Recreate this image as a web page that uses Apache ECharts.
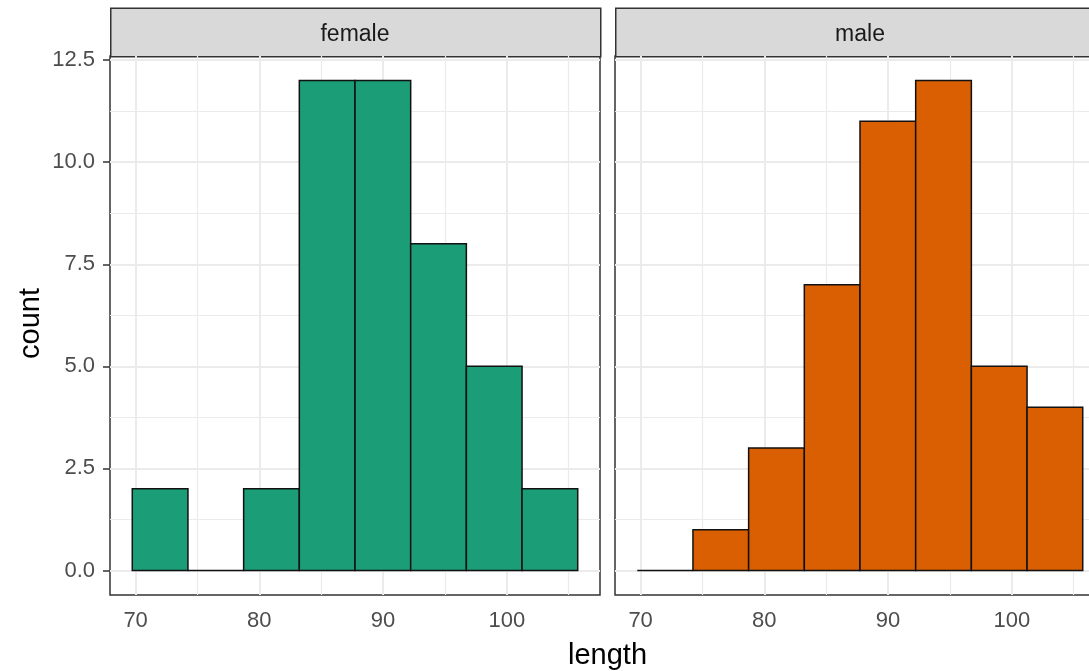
<!DOCTYPE html>
<html>
<head>
<meta charset="utf-8">
<script src="https://cdn.jsdelivr.net/npm/echarts@6/dist/echarts.min.js"></script>
<style>
html,body{margin:0;padding:0;background:#fff;}
#chart{width:1089px;height:671px;}
</style>
</head>
<body>
<div id="chart"></div>
<script>
// ---- data ----
const panels = ['female', 'male'];
const binEdges = [69.73, 74.23, 78.73, 83.23, 87.73, 92.23, 96.73, 101.23, 105.73];
const femaleCounts = [2, 0, 2, 12, 12, 8, 5, 2];
const maleCounts = [0, 1, 3, 7, 11, 12, 5, 4];
const xTicks = [70, 80, 90, 100];
const xMinor = [75, 85, 95, 105];
const yTicks = [0, 2.5, 5, 7.5, 10, 12.5];
const yMinor = [1.25, 3.75, 6.25, 8.75, 11.25];
const colors = ['#1B9E77', '#D95F02'];

// ---- layout ----
const X_MIN = 67.93, X_MAX = 107.53, Y_MIN = -0.6, Y_MAX = 12.6;
const PANEL_TOP = 56, PANEL_H = 539, PANEL_W = 490;
const PANEL_LEFT = [110, 615];
const STRIP_TOP = 7.5;
const FONT = '"Liberation Sans", Arial, sans-serif';

function binData(counts) {
  return counts.map((c, i) => [binEdges[i], binEdges[i + 1], c]);
}

const grids = PANEL_LEFT.map(l => ({
  left: l, top: PANEL_TOP, width: PANEL_W, height: PANEL_H,
  show: true, backgroundColor: '#fff', borderColor: '#333333', borderWidth: 1.5,
  containLabel: false, outerBoundsMode: 'none'
}));

const xAxes = panels.map((p, i) => ({
  type: 'value', gridIndex: i, min: X_MIN, max: X_MAX,
  axisLine: { show: false },
  axisTick: { show: true, length: 6, customValues: xTicks, lineStyle: { color: '#333333', width: 1.5 } },
  axisLabel: { show: true, customValues: xTicks, margin: 15, color: '#4D4D4D', fontSize: 22, fontFamily: FONT },
  splitLine: { show: false }
}));

const yAxes = panels.map((p, i) => ({
  type: 'value', gridIndex: i, min: Y_MIN, max: Y_MAX,
  axisLine: { show: false },
  axisTick: { show: i === 0, length: 7, customValues: yTicks, lineStyle: { color: '#333333', width: 1.5 } },
  axisLabel: { show: i === 0, customValues: yTicks, margin: 15, color: '#4D4D4D', fontSize: 22, fontFamily: FONT,
    formatter: v => Number(v).toFixed(1) },
  splitLine: { show: false }
}));

function gridLineData() {
  const d = [];
  xTicks.forEach(v => d.push({ xAxis: v, lineStyle: { color: '#EBEBEB', width: 2, type: 'solid' } }));
  xMinor.forEach(v => d.push({ xAxis: v, lineStyle: { color: '#EBEBEB', width: 1.2, type: 'solid' } }));
  yTicks.forEach(v => d.push({ yAxis: v, lineStyle: { color: '#EBEBEB', width: 2, type: 'solid' } }));
  yMinor.forEach(v => d.push({ yAxis: v, lineStyle: { color: '#EBEBEB', width: 1.2, type: 'solid' } }));
  return d;
}

const series = [];
[femaleCounts, maleCounts].forEach((counts, i) => {
  series.push({
    type: 'line', xAxisIndex: i, yAxisIndex: i, data: [], z: 1, silent: true,
    markLine: { silent: true, symbol: ['none', 'none'], label: { show: false }, animation: false, data: gridLineData() }
  });
  series.push({
    type: 'custom', name: panels[i], xAxisIndex: i, yAxisIndex: i, z: 10,
    data: binData(counts),
    encode: { x: [0, 1], y: 2 },
    renderItem: (params, api) => {
      const x0 = api.value(0), x1 = api.value(1), c = api.value(2);
      const p0 = api.coord([x0, 0]);
      const p1 = api.coord([x1, c]);
      if (c === 0) {
        return { type: 'line', shape: { x1: p0[0], y1: p0[1], x2: p1[0], y2: p0[1] },
          style: { stroke: '#111', lineWidth: 1.5 } };
      }
      return { type: 'rect', shape: { x: p0[0], y: p1[1], width: p1[0] - p0[0], height: p0[1] - p1[1] },
        style: { fill: colors[i], stroke: '#111', lineWidth: 1.5 } };
    }
  });
});

const graphics = [];
panels.forEach((p, i) => {
  graphics.push({
    type: 'rect', left: PANEL_LEFT[i], top: STRIP_TOP, z: 5,
    shape: { width: PANEL_W, height: PANEL_TOP - STRIP_TOP },
    style: { fill: '#D9D9D9', stroke: '#333333', lineWidth: 1.5 }
  });
  graphics.push({
    type: 'text', z: 6,
    x: PANEL_LEFT[i] + PANEL_W / 2, y: (STRIP_TOP + PANEL_TOP) / 2 + 3,
    style: { text: p, fill: '#1A1A1A', font: '23px ' + FONT, align: 'center', verticalAlign: 'middle' }
  });
});
graphics.push({
  type: 'text', x: (PANEL_LEFT[0] + PANEL_LEFT[1] + PANEL_W) / 2, y: 656,
  style: { text: 'length', fill: '#000', font: '29px ' + FONT, align: 'center', verticalAlign: 'middle' }
});
graphics.push({
  type: 'text', x: 31, y: PANEL_TOP + PANEL_H / 2 - 2, rotation: Math.PI / 2,
  style: { text: 'count', fill: '#000', font: '29px ' + FONT, align: 'center', verticalAlign: 'middle' }
});

const chart = echarts.init(document.getElementById('chart'), null, { renderer: 'canvas' });
chart.setOption({
  animation: false,
  backgroundColor: '#fff',
  grid: grids,
  xAxis: xAxes,
  yAxis: yAxes,
  series: series,
  graphic: graphics
});
</script>
</body>
</html>
